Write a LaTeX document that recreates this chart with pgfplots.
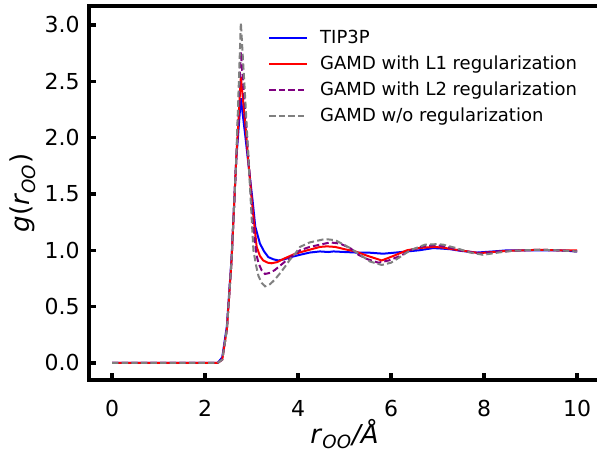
\documentclass[border=0pt]{standalone}
\usepackage{fontspec}
\setmainfont{DejaVu Sans}
\usepackage{pgfplots}
\pgfplotsset{compat=1.18}
\definecolor{mplpurple}{RGB}{128,0,128}
\definecolor{mplgray}{RGB}{128,128,128}
\begin{document}
\begin{tikzpicture}
\begin{axis}[
  scale only axis, width=255.75pt, height=187.15pt,
  xmin=-0.5, xmax=10.5, ymin=-0.151, ymax=3.171,
  xtick={0,2,4,6,8,10}, ytick={0,0.5,1,1.5,2,2.5,3},
  tick pos=left, tick align=inside,
  major tick length=3.5pt,
  every tick/.style={black, line width=1.6pt},
  axis line style={line width=2pt},
  tick label style={font=\fontsize{11}{13}\selectfont},
  /pgf/number format/assume math mode=true,
  yticklabel style={xshift=-1pt, /pgf/number format/.cd, fixed, fixed zerofill, precision=1},
  xticklabel style={yshift=-6.5pt},
  xlabel={\textit{r}\textsubscript{\textit{OO}}\textit{/Å}},
  ylabel={\textit{g}(\textit{r}\textsubscript{\textit{OO}})},
  label style={font=\fontsize{13}{15}\selectfont},
  xlabel style={at={(axis description cs:0.5,-0.1683)}, anchor=base},
  ylabel style={at={(axis description cs:-0.129,0.5)}, anchor=center},
  legend style={at={(rel axis cs:0.3500,0.9466)}, anchor=north west, draw=none, fill=none,
    font=\fontsize{9}{11}\selectfont, inner sep=0pt, row sep=0.6pt},
  legend cell align=left,
  legend image code/.code={\draw[#1] (0pt,0pt) -- (19pt,0pt); \path (23pt,0pt);},
  clip=false,
]
\addplot[blue, line width=1pt] coordinates {
(0,0) (0.5,0) (1,0) (1.5,0) (2,0) (2.27,0) (2.37,0.05) (2.47,0.33) (2.57,0.93) (2.67,1.80)
(2.77,2.35) (2.87,2.00) (2.95,1.70) (3.02,1.45) (3.08,1.21) (3.18,1.06) (3.27,0.99) (3.36,0.94)
(3.47,0.92) (3.58,0.91) (3.70,0.92) (3.85,0.94) (4.04,0.96) (4.25,0.98) (4.47,0.99) (4.65,0.985)
(4.76,0.99) (5.0,0.985) (5.25,0.98) (5.5,0.98) (5.83,0.97) (6.1,0.98) (6.34,0.99) (6.6,1.00)
(6.91,1.02) (7.1,1.015) (7.27,1.01) (7.5,0.995) (7.84,0.98) (8.2,0.99) (8.5,1.0) (8.85,1.0)
(9.2,1.0) (9.6,1.0) (10.0,0.99)};
\addlegendentry{TIP3P}
\addplot[red, line width=1pt] coordinates {
(0,0) (0.5,0) (1,0) (1.5,0) (2,0) (2.27,0) (2.37,0.03) (2.47,0.30) (2.57,0.91) (2.67,1.80)
(2.77,2.54) (2.87,2.10) (2.95,1.70) (3.02,1.38) (3.11,1.03) (3.18,0.95) (3.25,0.91) (3.35,0.89)
(3.43,0.885) (3.55,0.895) (3.72,0.93) (3.94,0.97) (4.2,1.00) (4.47,1.03) (4.62,1.035) (4.8,1.03)
(5.0,1.01) (5.23,0.99) (5.5,0.95) (5.80,0.91) (6.05,0.95) (6.34,1.00) (6.6,1.02) (6.91,1.03)
(7.1,1.025) (7.4,1.005) (7.9,0.975) (8.2,0.985) (8.5,0.995) (8.85,1.00) (9.2,1.005) (9.6,1.0)
(10.0,1.0)};
\addlegendentry{GAMD with L1 regularization}
\addplot[mplpurple, line width=1pt, dash pattern=on 3.2pt off 1.6pt] coordinates {
(0,0) (0.5,0) (1,0) (1.5,0) (2,0) (2.27,0) (2.37,0.03) (2.47,0.30) (2.57,0.91) (2.67,1.80)
(2.77,2.76) (2.87,2.20) (2.95,1.72) (3.02,1.30) (3.10,0.97) (3.15,0.885) (3.22,0.82) (3.29,0.79)
(3.40,0.80) (3.50,0.825) (3.72,0.90) (3.94,0.97) (4.04,1.00) (4.25,1.03) (4.47,1.05) (4.69,1.07)
(4.9,1.06) (5.12,1.02) (5.3,0.96) (5.5,0.92) (5.73,0.89) (5.95,0.91) (6.2,0.95) (6.41,1.00)
(6.73,1.04) (7.0,1.045) (7.3,1.02) (7.6,0.99) (7.95,0.97) (8.3,0.985) (8.6,0.995) (8.85,1.00)
(9.2,1.005) (9.6,1.0) (10.0,0.99)};
\addlegendentry{GAMD with L2 regularization}
\addplot[mplgray, line width=1pt, dash pattern=on 3.2pt off 1.6pt] coordinates {
(0,0) (0.5,0) (1,0) (1.5,0) (2,0) (2.27,0) (2.37,0.03) (2.47,0.30) (2.57,0.91) (2.67,1.80)
(2.77,3.02) (2.87,2.30) (2.94,1.76) (3.04,1.00) (3.10,0.86) (3.15,0.77) (3.22,0.71) (3.29,0.68)
(3.40,0.70) (3.50,0.74) (3.62,0.80) (3.72,0.855) (3.83,0.92) (3.94,0.97) (4.04,1.03) (4.25,1.07)
(4.58,1.10) (4.8,1.09) (5.12,1.02) (5.30,0.97) (5.55,0.90) (5.80,0.87) (6.0,0.89) (6.19,0.94)
(6.41,1.00) (6.73,1.05) (7.0,1.055) (7.12,1.05) (7.4,1.02) (7.7,0.98) (7.98,0.96) (8.3,0.98)
(8.6,0.995) (8.85,1.00) (9.2,1.005) (9.6,1.0) (10.0,0.99)};
\addlegendentry{GAMD w/o regularization}
\coordinate (bl) at (rel axis cs:0,0);
\coordinate (tr) at (rel axis cs:1,1);
\end{axis}
\pgfresetboundingbox
\path[use as bounding box] ([xshift=-44.4pt,yshift=-34.3pt]bl) rectangle ([xshift=-1.65pt,yshift=2.85pt]tr);
\end{tikzpicture}
\end{document}
